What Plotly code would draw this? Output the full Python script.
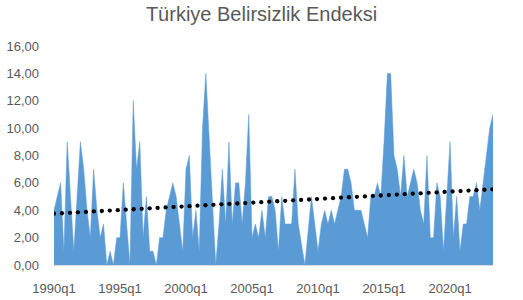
import numpy as np
import plotly.graph_objects as go

# ---- data ----
start_year = 1990
values = [4, 5, 6, 1, 9, 5, 1, 5, 9, 7, 4, 2, 7, 4, 2, 3, 0, 1, 0, 2,
          2, 6, 3, 0, 12, 7, 9, 2, 5, 1, 1, 0, 2, 2, 4, 5, 6, 5, 3, 1,
          7, 8, 2, 4, 1, 10, 14, 9, 5, 0, 3, 7, 3, 9, 3, 6, 6, 3, 6, 11,
          2, 3, 2, 4, 2, 5, 5, 4, 1, 5, 3, 3, 3, 7, 3, 1.5, 0, 2.5, 5, 3,
          1, 3, 4, 3, 4, 3, 4, 5, 7, 7, 6, 4, 4, 4, 3, 2, 5, 5, 6, 5,
          9, 14, 14, 8, 7, 5, 8, 5, 6, 7, 6, 4, 3, 8, 2, 2, 6, 5, 1, 5,
          9, 2, 5, 1, 3, 3, 5, 5, 6, 4, 6, 8, 10, 11]
quarters = [f"{start_year + k // 4}q{k % 4 + 1}" for k in range(len(values))]
tick_labels = ["1990q1", "1995q1", "2000q1", "2005q1", "2010q1", "2015q1", "2020q1"]
y_ticks = [0, 2, 4, 6, 8, 10, 12, 14, 16]

x = np.arange(len(values))
tickvals = [quarters.index(t) for t in tick_labels]

# linear trend (as Excel's linear trendline)
slope, intercept = np.polyfit(x, values, 1)
dot_step = 2.415  # spacing of trend dots, in quarters
tx = np.arange(0, len(values) - 1 + 1e-9, dot_step)
ty = intercept + slope * tx

fig = go.Figure()
fig.add_trace(go.Scatter(
    x=x, y=values, mode="lines", fill="tozeroy",
    fillcolor="#5B9BD5", line=dict(color="#5B9BD5", width=0.5),
    hoverinfo="skip", showlegend=False))
fig.add_trace(go.Scatter(
    x=tx, y=ty, mode="markers",
    marker=dict(color="black", size=4.3, line=dict(width=0)),
    hoverinfo="skip", showlegend=False))

font_family = "Liberation Sans, Arial, sans-serif"
fig.update_layout(
    width=523, height=300,
    margin=dict(l=54, r=30, t=46, b=35),
    paper_bgcolor="white", plot_bgcolor="white",
    separators=",.",
    font=dict(family=font_family, color="#595959", size=13),
    title=dict(text="Türkiye Belirsizlik Endeksi", x=0.5, xref="container",
               xanchor="center", y=0.953, yanchor="middle",
               font=dict(size=20, color="#595959", family=font_family)),
    xaxis=dict(range=[0, len(values) - 1], tickvals=tickvals, ticktext=tick_labels,
               showgrid=False, zeroline=False, showline=True, linecolor="#D9D9D9",
               linewidth=1, ticks="", ticklabelstandoff=11, automargin=False,
               tickfont=dict(size=13, color="#595959")),
    yaxis=dict(range=[0, 16], tickvals=y_ticks, tickformat=".2f",
               showgrid=False, zeroline=False, showline=False, ticks="",
               ticklabelstandoff=14, automargin=False,
               tickfont=dict(size=13, color="#595959")),
)
fig.write_html("out.html")
